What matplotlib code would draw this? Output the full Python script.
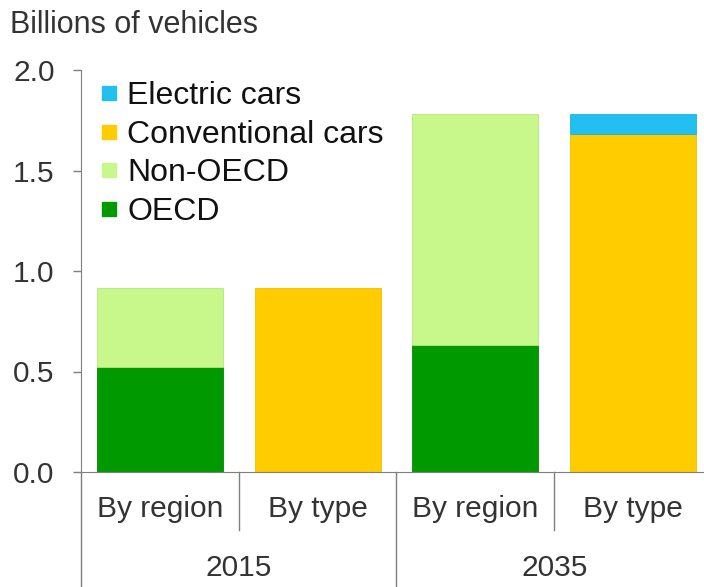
import matplotlib
matplotlib.use('Agg')
import matplotlib.pyplot as plt
from matplotlib.lines import Line2D
import matplotlib.transforms as mtransforms

plt.rcParams['font.family'] = ['Liberation Sans', 'DejaVu Sans']

# data (billions of vehicles)
years = ['2015', '2035']
bar_labels = ['By region', 'By type', 'By region', 'By type']
oecd = [0.52, 0, 0.63, 0]
non_oecd = [0.395, 0, 1.15, 0]
conventional = [0, 0.915, 0, 1.68]
electric = [0, 0, 0, 0.10]

c_oecd = '#009a00'
c_non = '#c8f78c'
c_conv = '#ffcc00'
c_elec = '#22bff0'
txt = '#333333'
grey = '#7f7f7f'

fig = plt.figure(figsize=(7.04, 5.87), dpi=100)
ax = fig.add_axes([81/704, 115/587, 623/704, 402/587])

x = list(range(len(bar_labels)))
w = 0.8


def stack(vals, bottom, color, edge):
    # skip empty segments so no stray edge lines show
    xs = [xi for xi, v in zip(x, vals) if v > 0]
    hs = [v for v in vals if v > 0]
    bs = [b for b, v in zip(bottom, vals) if v > 0]
    ax.bar(xs, hs, w, bottom=bs, color=color, edgecolor=edge, linewidth=0.6)


zeros = [0] * len(x)
stack(oecd, zeros, c_oecd, '#008a00')
stack(non_oecd, oecd, c_non, '#b5e57a')
stack(conventional, zeros, c_conv, '#f0c000')
stack(electric, conventional, c_elec, '#1fb0e0')

ax.set_ylim(0, 2.0)
ax.set_xlim(-0.5, -0.5 + 623/157.75)
ax.set_yticks([0, 0.5, 1.0, 1.5, 2.0])
ax.set_yticklabels(['0.0', '0.5', '1.0', '1.5', '2.0'])
ax.tick_params(axis='y', length=6, width=1, color=grey, pad=13, labelsize=21.5, labelcolor=txt)
ax.set_xticks([])

for s in ['top', 'right']:
    ax.spines[s].set_visible(False)
ax.spines['left'].set_color(grey)
ax.spines['bottom'].set_color(grey)

# category labels under the axis
trans = mtransforms.blended_transform_factory(ax.transData, ax.transAxes)
for xi, lab in zip(x, bar_labels):
    ax.text(xi, -0.092, lab, transform=trans, ha='center', va='center',
            fontsize=21.5, color=txt)
for i, yr in enumerate(years):
    ax.text(2 * i + 0.5, -0.238, yr, transform=trans, ha='center', va='center',
            fontsize=21.5, color=txt)

# separators
for xs in [0.5, 2.5]:
    ax.plot([xs, xs], [0, -0.144], transform=trans, color=grey, lw=1, clip_on=False)
for xs in [-0.5, 1.5]:
    ax.plot([xs, xs], [0, -0.3], transform=trans, color=grey, lw=1, clip_on=False)

# legend
handles = [Line2D([], [], marker='s', ls='', color=c, markersize=10.5)
           for c in [c_elec, c_conv, c_non, c_oecd]]
leg = ax.legend(handles, ['Electric cars', 'Conventional cars', 'Non-OECD', 'OECD'],
                loc='upper left', bbox_to_anchor=(0.0, 1.02), frameon=False,
                fontsize=23, handlelength=0.55, handletextpad=0.3,
                labelspacing=0.27, borderaxespad=0.2)
for t in leg.get_texts():
    t.set_color('#111111')

fig.text(10/704, 1 - 33/587, 'Billions of vehicles', fontsize=22, color=txt,
         ha='left', va='baseline')

fig.savefig('out.png', dpi=100)
